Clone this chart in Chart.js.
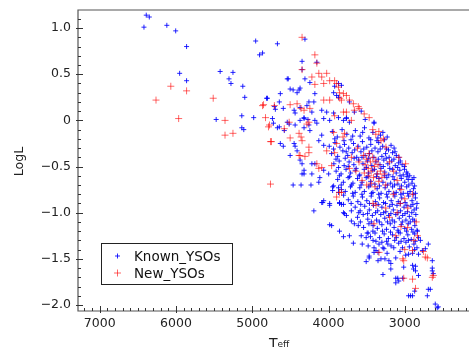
<!DOCTYPE html>
<html>
<head>
<meta charset="utf-8">
<script src="https://cdn.jsdelivr.net/npm/chart.js@4.4.1/dist/chart.umd.min.js"></script>
<style>
  html, body { margin: 0; padding: 0; background: #fff; overflow: hidden; }
  #wrap { width: 472px; height: 347px; }
</style>
</head>
<body>
<div id="wrap"><canvas id="canvas" width="472" height="347"></canvas></div>
<script>
"use strict"
// [Teff, LogL]
const knownYSOs = [
  [6390,1.14],[6350,1.12],[6420,1.01],[6120,1.03],[6004,0.97],[5861,0.80],[4955,0.86],[4670,0.83],[4904,0.71],[4865,0.73],
  [5952,0.51],[5861,0.43],[5421,0.53],[5253,0.52],[5305,0.45],[5279,0.40],[5124,0.37],[5098,0.25],[5473,0.01],[5137,0.05],
  [5137,-0.08],[5111,-0.10],[4981,0.03],[4813,0.24],[4528,0.45],[4309,0.88],
  [4347,0.64],[4347,0.55],[4309,0.45],[4541,0.45],[4503,0.34],[4464,0.33],[4386,0.33],[4373,0.35],[4412,0.30],[4244,0.41],
  [4632,0.29],[4800,0.24],[4645,0.20],[4710,0.15],[4697,0.12],[4593,0.13],[4373,0.00],[4321,0.02],[4257,0.20],[4283,0.16],
  [4451,0.11],[4438,0.08],[4153,0.63],[4179,0.29],[4218,0.09],[4373,0.14],[4192,0.20],[4179,0.00],[4270,0.01],[4321,0.03],
  [4735,0.02],[4722,-0.03],[4670,-0.08],[4580,-0.11],[4632,-0.25],[4593,-0.28],[4503,-0.38],[4321,-0.08],[4257,-0.05],[4244,-0.11],
  [4645,-0.07],[4541,-0.02],[4516,-0.04],[4438,-0.05],[4438,-0.28],[4412,-0.33],[4451,-0.25],[4373,-0.43],[4347,-0.47],[4321,-0.54],
  [4347,-0.58],[4218,-0.58],[4321,-0.58],[4218,-0.47],[4179,-0.47],[4114,-0.62],[3998,-0.58],[4063,-0.54],[3933,-0.71],[3946,-0.76],
  [3869,-0.78],[4063,-0.87],[3985,-0.90],[4089,-0.89],[3856,-0.89],[3804,-0.91],[4192,-0.98],[3804,-1.00],[3700,-0.98],[4127,-0.22],
  [4089,-0.16],[4063,-0.27],
  [4464,-0.70],[4360,-0.70],[4230,-0.70],[4127,-0.67],[4076,-0.89],[3985,-0.92],[3985,-1.13],[3959,-1.14],[3946,-0.72],[3869,-0.73],
  [3830,-0.75],[3856,-0.90],[3830,-0.91],[3856,-1.20],[3791,-1.01],[3765,-1.03],[3700,-1.09],[3726,-1.25],[3674,-1.33],[3661,-1.12],
  [3610,-1.14],[3571,-1.25],[3506,-1.27],[3506,-1.53],[3416,-1.30],[3377,-1.41],[3351,-1.43],[3286,-1.38],[3273,-1.39],[3312,-1.50],
  [3286,-1.67],[3208,-1.52],[3183,-1.61],[3118,-1.71],[3118,-1.76],[3079,-1.74],[3027,-1.71],[2950,-1.90],[2898,-1.90],[2885,-1.61],
  [2859,-1.58],[2820,-1.45],[2704,-1.90],[2665,-1.83],[2639,-1.60],[2639,-1.63],[2626,-1.66],[2600,-1.99],[2561,-2.02],[2769,-1.41],
  [2795,-1.30],[2833,-1.20],[2820,-1.27],
  [3804,-1.26],[3558,-1.34],[3493,-1.22],[3467,-1.47],[3403,-1.38],[3403,-1.43],[3416,-1.14],[3480,-1.22],[3338,-1.34],[3222,-1.34],
  [3144,-1.38],[3467,-1.49],[3351,-1.52],[3260,-1.50],[3183,-1.55],[3118,-1.49],[2950,-1.45],[2898,-1.44],[3092,-1.71],[2859,-1.63],
  [2820,-1.68],[2870,-1.85],[2691,-1.83],[2924,-1.90],[2574,-2.03],[3014,-1.59],[2898,-1.57],[2639,-1.52],[2730,-1.39],[2691,-1.34],
  [4089,0.11],[4024,0.09],[3933,0.08],[4063,0.02],[3985,0.00],[3869,0.03],[3804,0.00],[3765,0.03],[3726,-0.02],[3869,0.25],
  [3933,0.30],[3894,0.27],[3830,0.38],[3920,0.37],[4153,-0.03],[3869,0.40],[3726,0.20],[3661,0.09],[3571,0.10],[3519,0.01],
  [3403,-0.02],[3765,0.02],[3403,-0.03],
  [3950,-0.12],[3885,-0.18],[3822,-0.10],[3760,-0.15],[3705,-0.21],[3648,-0.11],[3585,-0.17],[3528,-0.08],[3470,-0.19],[3418,-0.13],
  [3365,-0.22],[3318,-0.16],[3265,-0.21],[3230,-0.18],
  [3990,-0.28],[3915,-0.24],[3850,-0.29],[3790,-0.26],[3735,-0.30],[3672,-0.25],[3612,-0.28],[3555,-0.23],[3498,-0.29],[3446,-0.26],
  [3390,-0.30],[3342,-0.24],[3290,-0.28],[3240,-0.31],[3180,-0.27],[3140,-0.30],
  [3960,-0.36],[3880,-0.39],[3812,-0.33],[3748,-0.38],[3690,-0.35],[3630,-0.40],[3575,-0.34],[3520,-0.38],[3462,-0.36],[3405,-0.40],
  [3352,-0.34],[3300,-0.39],[3252,-0.36],[3205,-0.40],[3160,-0.35],[3110,-0.38],[3075,-0.40],
  [3930,-0.47],[3860,-0.44],[3795,-0.49],[3730,-0.45],[3668,-0.48],[3605,-0.43],[3548,-0.47],[3490,-0.44],[3432,-0.49],[3378,-0.45],
  [3325,-0.48],[3275,-0.43],[3222,-0.47],[3172,-0.44],[3125,-0.49],[3080,-0.46],[3035,-0.48],[3005,-0.50],
  [3900,-0.55],[3835,-0.58],[3770,-0.53],[3710,-0.57],[3650,-0.54],[3590,-0.59],[3532,-0.53],[3475,-0.57],[3420,-0.54],[3365,-0.58],
  [3312,-0.52],[3262,-0.56],[3210,-0.59],[3160,-0.53],[3112,-0.57],[3065,-0.54],[3020,-0.59],[2975,-0.56],[2935,-0.60],
  [3880,-0.64],[3805,-0.67],[3742,-0.62],[3680,-0.68],[3620,-0.63],[3560,-0.67],[3505,-0.62],[3448,-0.66],[3392,-0.69],[3338,-0.63],
  [3286,-0.67],[3235,-0.62],[3185,-0.68],[3138,-0.64],[3090,-0.69],[3045,-0.63],[3000,-0.67],[2955,-0.64],[2905,-0.68],[2880,-0.62],
  [3780,-0.77],[3712,-0.72],[3650,-0.78],[3590,-0.73],[3530,-0.77],[3472,-0.72],[3418,-0.78],[3362,-0.74],[3310,-0.79],[3258,-0.73],
  [3208,-0.77],[3160,-0.72],[3112,-0.78],[3065,-0.74],[3020,-0.79],[2975,-0.72],[2930,-0.77],[2885,-0.74],[2860,-0.79],
  [3740,-0.86],[3675,-0.82],[3615,-0.88],[3555,-0.83],[3498,-0.87],[3440,-0.82],[3385,-0.88],[3330,-0.84],[3278,-0.89],[3228,-0.83],
  [3178,-0.87],[3130,-0.82],[3085,-0.88],[3040,-0.84],[2995,-0.89],[2950,-0.82],[2905,-0.87],[2860,-0.84],[2840,-0.90],
  [3650,-0.94],[3585,-0.98],[3525,-0.93],[3465,-0.97],[3410,-0.92],[3355,-0.98],[3300,-0.94],[3248,-0.99],[3198,-0.93],[3150,-0.97],
  [3102,-0.92],[3055,-0.98],[3010,-0.94],[2965,-0.99],[2920,-0.93],[2878,-0.97],[2845,-0.95],
  [3620,-1.05],[3545,-1.02],[3485,-1.07],[3425,-1.03],[3370,-1.08],[3315,-1.02],[3262,-1.06],[3212,-1.03],[3165,-1.08],[3118,-1.02],
  [3072,-1.06],[3028,-1.03],[2985,-1.08],[2940,-1.04],[2895,-1.07],[2855,-1.02],
  [3540,-1.16],[3470,-1.12],[3360,-1.17],[3300,-1.13],[3240,-1.18],[3190,-1.12],[3140,-1.16],[3090,-1.19],[3045,-1.13],[3000,-1.17],
  [2955,-1.12],[2910,-1.18],[2868,-1.14],[2840,-1.19],
  [3450,-1.26],[3390,-1.22],[3330,-1.27],[3270,-1.23],[3215,-1.28],[3160,-1.24],[3110,-1.27],[3060,-1.22],[3010,-1.28],[2960,-1.24],
  [2915,-1.29],[2870,-1.23],
  [3480,-1.36],[3300,-1.32],[3180,-1.36],[3080,-1.33],[3030,-1.38],[2985,-1.32],[2940,-1.37],[2880,-1.34],[2840,-1.38],
  // in-between points of the dense core
  [3918,-0.20],[3797,-0.22],[3683,-0.17],[3552,-0.13],[3447,-0.21],[3352,-0.19],[3287,-0.13],
  [3934,-0.31],[3768,-0.34],[3657,-0.32],[3538,-0.31],[3431,-0.33],[3322,-0.31],[3213,-0.32],[3128,-0.34],
  [3902,-0.42],[3781,-0.41],[3664,-0.41],[3561,-0.40],[3473,-0.41],[3347,-0.42],[3243,-0.41],[3142,-0.42],[3058,-0.44],
  [3868,-0.51],[3742,-0.50],[3637,-0.52],[3503,-0.51],[3396,-0.53],[3281,-0.50],[3197,-0.52],[3093,-0.51],[3004,-0.53],[2963,-0.58],
  [3857,-0.60],[3724,-0.61],[3598,-0.60],[3483,-0.61],[3371,-0.61],[3263,-0.60],[3156,-0.61],[3062,-0.60],[2973,-0.61],[2903,-0.64],
  [3833,-0.70],[3697,-0.70],[3573,-0.70],[3452,-0.70],[3331,-0.71],[3228,-0.70],[3134,-0.70],[3043,-0.71],[2947,-0.70],[2871,-0.71],
  [3802,-0.81],[3683,-0.79],[3562,-0.80],[3437,-0.79],[3342,-0.80],[3238,-0.80],[3143,-0.79],[3052,-0.80],[2962,-0.79],[2883,-0.80],
  [3703,-0.90],[3577,-0.91],[3463,-0.90],[3348,-0.91],[3252,-0.90],[3163,-0.91],[3058,-0.90],[2972,-0.92],[2893,-0.91],
  [3603,-1.00],[3488,-1.01],[3383,-1.00],[3277,-1.00],[3182,-1.01],[3088,-1.00],[2997,-1.01],[2908,-1.00],
  [3582,-1.10],[3438,-1.10],[3333,-1.10],[3227,-1.10],[3133,-1.10],[3032,-1.10],[2928,-1.10],[2872,-1.09],
  [3418,-1.20],[3292,-1.20],[3187,-1.21],[3083,-1.21],[2978,-1.20],[2892,-1.21],
  [3378,-1.31],[3238,-1.31],[3132,-1.30],[3048,-1.31],[2952,-1.30],[2862,-1.31],
  [3232,-1.44],[3062,-1.42],[2988,-1.46],[2872,-1.40]
];
const newYSOs = [
  [6262,0.22],[6068,0.37],[5861,0.32],[5512,0.24],[5965,0.02],[5357,0.00],[5357,-0.16],[5253,-0.14],[4761,-0.23],[4347,0.90],[4761,-0.69],
  [4179,0.71],[4153,0.62],[4347,0.55],[4218,0.47],[4127,0.51],[4089,0.47],[4024,0.51],[4063,0.40],[4179,0.39],[3920,0.43],
  [3894,0.40],[3856,0.30],[3804,0.29],[4063,0.22],[3985,0.22],[3830,0.22],[4503,0.17],[4412,0.18],[4865,0.16],[4826,0.03],
  [4516,-0.02],[4257,-0.02],[4321,0.11],[4244,0.13],[3726,0.22],[3765,0.09],[3920,0.05],[3661,0.11],[3674,0.18],[3610,0.15],
  [3597,0.13],[3532,0.07],[3467,0.03],[3700,0.00],[3804,0.09],[3985,0.43],[3869,0.36],[3765,0.27],[3852,0.24],[4852,0.17],
  [4710,0.16],[4787,-0.07],[4580,-0.09],[4386,-0.14],[4360,-0.18],[4283,-0.04],[4386,-0.38],[4309,-0.39],[4257,-0.29],[4360,0.13],
  [4774,-0.05],[4748,-0.23],[4503,-0.19],[4347,-0.22],[4373,-0.38],[4257,-0.35],[4153,-0.47],[4127,-0.52],[4089,-0.51],[3959,-0.49],
  [4024,-0.33],[3920,-0.35],[3894,-0.25],[3894,-0.83],[3830,-0.78],[3933,-0.13],[3726,-0.52],[3790,-0.14],[3810,-0.18],
  [3312,-0.22],[3247,-0.29],[3079,-0.40],[2989,-0.47],[3420,-0.10],[3380,-0.15],[3340,-0.12],[3280,-0.20],
  [3540,-0.38],[3500,-0.42],[3470,-0.36],[3450,-0.45],[3420,-0.40],[3520,-0.48],[3480,-0.52],[3440,-0.55],[3400,-0.50],[3380,-0.44],
  [3360,-0.58],[3410,-0.62],[3470,-0.60],[3530,-0.57],[3350,-0.48],[3320,-0.55],[3300,-0.62],[3440,-0.68],[3390,-0.72],[3340,-0.66],
  [3500,-0.70],[3270,-0.58],[3560,-0.65],[3250,-0.70],[3600,-0.45],[3640,-0.55],[3620,-0.30],[3700,-0.40],[3150,-0.55],[3100,-0.65],
  [3200,-0.45],[3050,-0.75],[3000,-0.85],[2960,-0.95],[3150,-0.80],[3250,-0.95],[3200,-1.05],[3100,-1.00],[2900,-0.80],[3060,-0.90],
  [3338,-1.43],[3027,-1.50],[3014,-1.71],[2898,-1.72],[2859,-1.82],[2639,-1.70],[2756,-1.42],[2730,-1.48],[2898,-1.41],[3403,-1.12],
  [3118,-1.25],[3856,-0.78],[3416,-0.90],[3377,-0.92],[2963,-1.16],[2833,-1.25],[3014,-1.52],[2704,-1.49],[2626,-1.68],
  [3000,-1.40],[2880,-1.30],[2850,-1.10],[3050,-1.15]
];
const seriesNames = ["Known_YSOs", "New_YSOs"];
const xTicks = [7000, 6000, 5000, 4000, 3000];
const yTicks = [1.0, 0.5, 0, -0.5, -1.0, -1.5, -2.0];

const blue = "rgba(0,0,255,0.85)";
const red = "rgba(255,0,0,0.6)";
const font = '"DejaVu Sans", sans-serif';

function yLabel(v) {
  if (v === 0) return "0";
  return (v < 0 ? "\u2212" : "") + Math.abs(v).toFixed(1);
}

// axes frame, inward ticks, labels, legend (matplotlib look)
const mplAxes = {
  id: "mplAxes",
  afterDraw(chart) {
    const ctx = chart.ctx, a = chart.chartArea;
    const xs = chart.scales.x, ys = chart.scales.y;
    ctx.save();
    ctx.strokeStyle = "#555";
    ctx.lineWidth = 1.2;
    ctx.beginPath();
    ctx.moveTo(a.right + 2, a.top); ctx.lineTo(a.left, a.top);
    ctx.lineTo(a.left, a.bottom); ctx.lineTo(a.right + 2, a.bottom);
    ctx.stroke();

    ctx.lineWidth = 1;
    ctx.strokeStyle = "#333";
    ctx.beginPath();
    for (let t = 2200; t <= 7200; t += 100) {
      const px = Math.round(xs.getPixelForValue(t)) + 0.5;
      const major = t % 1000 === 0;
      ctx.moveTo(px, a.bottom + (major ? 2 : 0));
      ctx.lineTo(px, a.bottom - (major ? 5 : 3));
    }
    for (let i = -20; i <= 11; i++) {
      const v = i / 10;
      const py = Math.round(ys.getPixelForValue(v)) + 0.5;
      const major = i % 5 === 0;
      ctx.moveTo(a.left - (major ? 2 : 0), py);
      ctx.lineTo(a.left + (major ? 5 : 3), py);
    }
    ctx.stroke();

    ctx.fillStyle = "#222";
    ctx.font = "12.5px " + font;
    ctx.textAlign = "center";
    ctx.textBaseline = "middle";
    xTicks.forEach(t => ctx.fillText(String(t), xs.getPixelForValue(t), a.bottom + 13));
    ctx.textAlign = "right";
    yTicks.forEach(v => ctx.fillText(yLabel(v), a.left - 7, ys.getPixelForValue(v)));

    // axis titles
    ctx.textAlign = "left";
    ctx.textBaseline = "alphabetic";
    ctx.font = "14px " + font;
    ctx.fillText("T", 269, 348);
    ctx.font = "9px " + font;
    ctx.fillText("eff", 277.5, 347);
    ctx.save();
    ctx.translate(23, (a.top + a.bottom) / 2 + 1);
    ctx.rotate(-Math.PI / 2);
    ctx.textAlign = "center";
    ctx.font = "12.5px " + font;
    ctx.fillText("LogL", 0, 0);
    ctx.restore();

    // legend
    const lx = 101.5, ly = 243.5, lw = 131, lh = 41;
    ctx.fillStyle = "#fff";
    ctx.fillRect(lx, ly, lw, lh);
    ctx.strokeStyle = "#222";
    ctx.lineWidth = 1;
    ctx.strokeRect(lx, ly, lw, lh);
    chart.data.datasets.forEach((ds, i) => {
      const cy = ly + 12.5 + i * 17;
      const r = ds.pointRadius;
      ctx.strokeStyle = ds.borderColor;
      ctx.beginPath();
      ctx.moveTo(117.5 - r, cy); ctx.lineTo(117.5 + r, cy);
      ctx.moveTo(117.5, cy - r); ctx.lineTo(117.5, cy + r);
      ctx.stroke();
      ctx.fillStyle = "#111";
      ctx.font = "13.5px " + font;
      ctx.textAlign = "left";
      ctx.textBaseline = "middle";
      ctx.fillText(ds.label, 134, cy + 1);
    });
    ctx.restore();
  }
};

const toXY = arr => arr.map(p => ({ x: p[0], y: p[1] }));

let chartOptions = {
  type: "scatter",
  data: {
    datasets: [{
      label: seriesNames[0],
      data: toXY(knownYSOs),
      pointStyle: "cross",
      pointRadius: 2.5,
      borderColor: blue,
      backgroundColor: blue,
      borderWidth: 1,
      order: 2
    }, {
      label: seriesNames[1],
      data: toXY(newYSOs),
      pointStyle: "cross",
      pointRadius: 3.5,
      borderColor: red,
      backgroundColor: red,
      borderWidth: 1,
      order: 1
    }]
  },
  options: {
    responsive: false,
    animation: false,
    devicePixelRatio: 1,
    layout: { padding: { left: 78, right: 0, top: 10, bottom: 36 } },
    scales: {
      x: { type: "linear", reverse: true, min: 2184, max: 7285, display: false },
      y: { type: "linear", min: -2.065, max: 1.196, display: false }
    },
    plugins: { legend: { display: false }, tooltip: { enabled: false } }
  },
  plugins: [mplAxes]
};

let chart = new Chart(document.getElementById("canvas"), chartOptions);
</script>
</body>
</html>
